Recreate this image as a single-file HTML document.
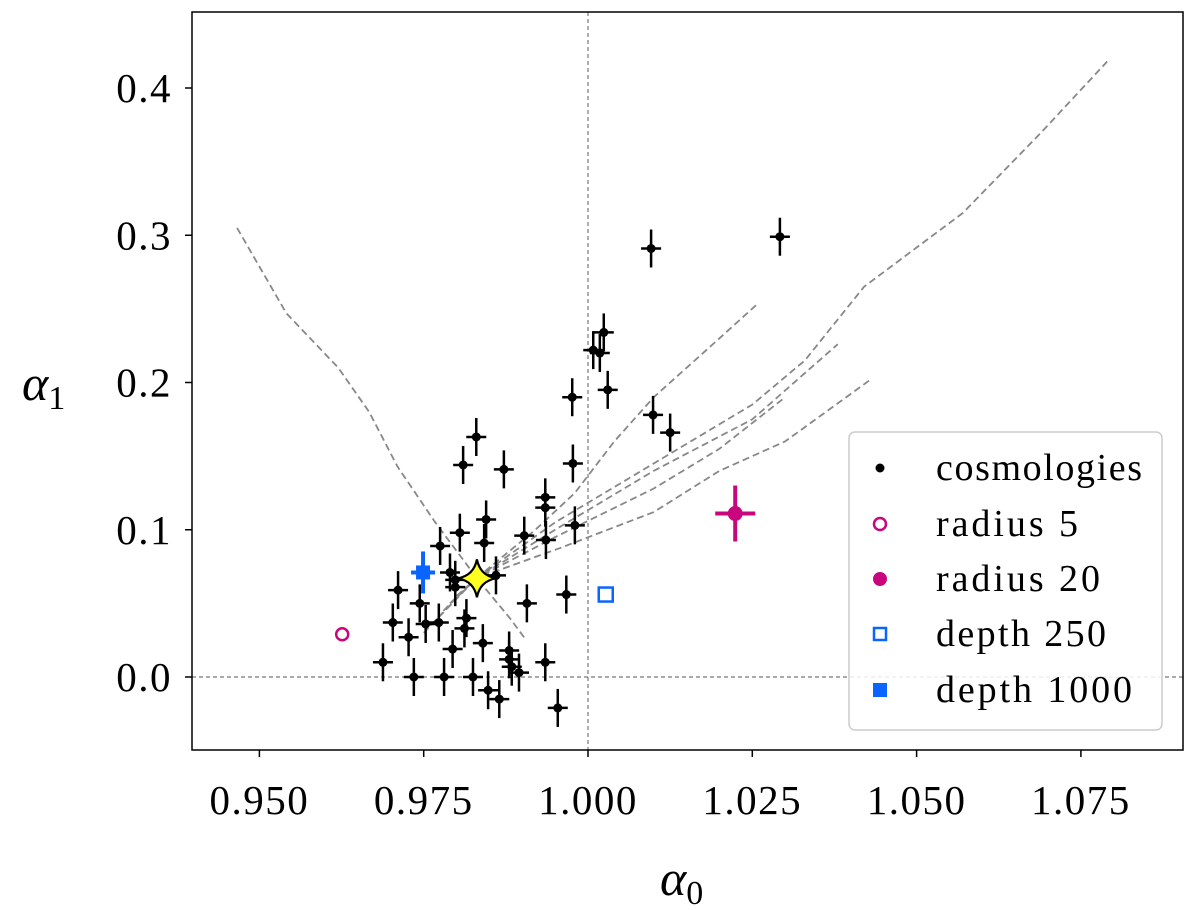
<!DOCTYPE html>
<html><head><meta charset="utf-8"><style>
body{margin:0;background:#fff;}
svg text{font-family:"Liberation Serif",serif;fill:#000;}
</style></head><body>
<svg id="c" width="1200" height="905"></svg>
<script>
const cosmoX=[1.0096,1.0292,1.0008,1.0018,1.0024,1.003,0.9976,1.0099,1.0125,0.9830,0.9810,0.9872,0.9977,0.9935,0.9935,0.9936,0.9980,0.9903,0.9845,0.9805,0.9842,0.9775,0.9790,0.9798,0.9860,0.9907,0.9967,0.9711,0.9744,0.9753,0.9703,0.9727,0.9773,0.9815,0.9812,0.9794,0.9840,0.9688,0.9735,0.9781,0.9825,0.9880,0.9880,0.9884,0.9895,0.9848,0.9865,0.9935,0.9954,0.9798];
const cosmoY=[0.291,0.299,0.222,0.220,0.234,0.195,0.190,0.178,0.166,0.163,0.144,0.141,0.145,0.122,0.115,0.093,0.103,0.096,0.107,0.098,0.091,0.089,0.071,0.061,0.069,0.050,0.056,0.059,0.050,0.036,0.037,0.027,0.037,0.040,0.033,0.019,0.023,0.010,0.0,0.0,0.0,0.018,0.012,0.007,0.003,-0.009,-0.015,0.010,-0.021,0.066];
const xTicks=[0.950,0.975,1.000,1.025,1.050,1.075];
const yTicks=[0.0,0.1,0.2,0.3,0.4];
const curves=[
 [[0.9466,0.305],[0.9541,0.247],[0.9620,0.210],[0.9667,0.180],[0.9710,0.143],[0.9766,0.106],[0.9831,0.067],[0.9881,0.040],[0.9906,0.025]],
 [[0.9760,0.035],[0.9830,0.067],[0.9920,0.100],[0.9980,0.125],[1.0040,0.160],[1.0100,0.190],[1.0200,0.230],[1.0257,0.253]],
 [[0.9750,0.030],[0.9830,0.067],[0.9950,0.105],[1.0100,0.145],[1.0250,0.185],[1.0330,0.215],[1.0420,0.265],[1.0570,0.315],[1.0690,0.370],[1.0790,0.418]],
 [[0.9780,0.045],[0.9830,0.067],[0.9950,0.100],[1.0100,0.140],[1.0250,0.175],[1.0380,0.226]],
 [[0.9790,0.050],[0.9830,0.067],[0.9950,0.095],[1.0100,0.128],[1.0200,0.155],[1.0300,0.190]],
 [[0.9800,0.055],[0.9830,0.067],[0.9960,0.088],[1.0100,0.112],[1.0200,0.140],[1.0300,0.160],[1.0430,0.202]]];
const fid=[0.9831,0.067];
const r5=[0.9626,0.029], r20=[1.0224,0.111], d250=[1.0027,0.056], d1000=[0.9749,0.071];

const L=192,R=1183,T=12,B=750;
const sx=v=>588+(v-1)*6572;
const sy=v=>677-v*1472.5;
const S=document.getElementById('c');const NS='http://www.w3.org/2000/svg';
function mk(t,a,p){const e=document.createElementNS(NS,t);for(const k in a)e.setAttribute(k,a[k]);(p||S).appendChild(e);return e;}
let e=mk('line',{x1:L,x2:R,y1:sy(0),y2:sy(0),stroke:'#777','stroke-width':1.2,'stroke-dasharray':'4,3'});

e=mk('line',{x1:sx(1),x2:sx(1),y1:T,y2:B,stroke:'#777','stroke-width':1.2,'stroke-dasharray':'4,3'});

curves.forEach((c,i)=>{
 const p=mk('polyline',{points:c.map(q=>sx(q[0])+','+sy(q[1])).join(' '),fill:'none',stroke:'#888','stroke-width':1.8,'stroke-dasharray':'7,4'});
 
 
});
cosmoX.forEach((x,i)=>{
 const g=mk('g',{});
 
 
 const cx=sx(x),cy=sy(cosmoY[i]);
 mk('line',{x1:cx-10,x2:cx+10,y1:cy,y2:cy,stroke:'#000','stroke-width':2.5},g);
 mk('line',{x1:cx,x2:cx,y1:cy-19,y2:cy+19,stroke:'#000','stroke-width':2.5},g);
 mk('circle',{cx:cx,cy:cy,r:4.5,fill:'#000'},g);
});
let g=mk('g',{});
let cx=sx(r20[0]),cy=sy(r20[1]);
mk('line',{x1:cx-20,x2:cx+20,y1:cy,y2:cy,stroke:'#c8077f','stroke-width':4},g);
mk('line',{x1:cx,x2:cx,y1:cy-28,y2:cy+28,stroke:'#c8077f','stroke-width':4},g);
mk('circle',{cx:cx,cy:cy,r:7.5,fill:'#c8077f'},g);
g=mk('g',{});
cx=sx(d1000[0]);cy=sy(d1000[1]);
mk('line',{x1:cx-12,x2:cx+12,y1:cy,y2:cy,stroke:'#0a64ff','stroke-width':4},g);
mk('line',{x1:cx,x2:cx,y1:cy-21,y2:cy+21,stroke:'#0a64ff','stroke-width':4},g);
mk('rect',{x:cx-7,y:cy-7,width:14,height:14,fill:'#0a64ff'},g);
e=mk('circle',{cx:sx(r5[0]),cy:sy(r5[1]),r:6,fill:'none',stroke:'#c8077f','stroke-width':2.5});

e=mk('rect',{x:sx(d250[0])-7,y:sy(d250[1])-7,width:14,height:14,fill:'none',stroke:'#0a64ff','stroke-width':2.5});

cx=sx(fid[0]);cy=sy(fid[1]);
e=mk('path',{d:`M${cx},${cy-19} Q${cx+3},${cy-3} ${cx+19},${cy} Q${cx+3},${cy+3} ${cx},${cy+19} Q${cx-3},${cy+3} ${cx-19},${cy} Q${cx-3},${cy-3} ${cx},${cy-19}Z`,fill:'#ffff22',stroke:'#000','stroke-width':2.2});

e=mk('rect',{x:L,y:T,width:R-L,height:B-T,fill:'none',stroke:'#000','stroke-width':1.5});

xTicks.forEach(v=>{
 mk('line',{x1:sx(v),x2:sx(v),y1:B,y2:B+7,stroke:'#000','stroke-width':1.5});
 const t=mk('text',{x:sx(v),y:814,'font-size':41,'letter-spacing':1.5,'text-anchor':'middle'});t.textContent=v.toFixed(3);
 
 
});
yTicks.forEach(v=>{
 mk('line',{x1:L-7,x2:L,y1:sy(v),y2:sy(v),stroke:'#000','stroke-width':1.5});
 const t=mk('text',{x:172,y:sy(v)+14,'font-size':41,'letter-spacing':1.5,'text-anchor':'end'});t.textContent=v.toFixed(1);
 
 
});
</script>
<svg style="position:absolute;left:0;top:0" width="1200" height="905">
<text x="660" y="895" font-size="50" font-style="italic">α<tspan font-size="34" font-style="normal" dy="9">0</tspan></text>
<text x="22" y="400" font-size="50" font-style="italic">α<tspan font-size="34" font-style="normal" dy="9">1</tspan></text>
<g>
<rect x="849" y="432" width="313" height="298" rx="6" fill="#fff" fill-opacity="0.85" stroke="#ccc" stroke-width="1.5"/>
<g><circle cx="880" cy="468" r="4.5" fill="#000"/><text x="936" y="480" font-size="38" textLength="206">cosmologies</text></g>
<g><circle cx="880" cy="524" r="6" fill="none" stroke="#c8077f" stroke-width="2.5"/><text x="936" y="536" font-size="38" textLength="142">radius 5</text></g>
<g><circle cx="880" cy="579" r="7" fill="#c8077f"/><text x="936" y="591" font-size="38" textLength="164">radius 20</text></g>
<g><rect x="874" y="628" width="12" height="12" fill="none" stroke="#0a64ff" stroke-width="2.5"/><text x="936" y="646" font-size="38" textLength="170">depth 250</text></g>
<g><rect x="873" y="683" width="14" height="14" fill="#0a64ff"/><text x="936" y="702" font-size="38" textLength="196">depth 1000</text></g>
</g>
</svg>
</body></html>
